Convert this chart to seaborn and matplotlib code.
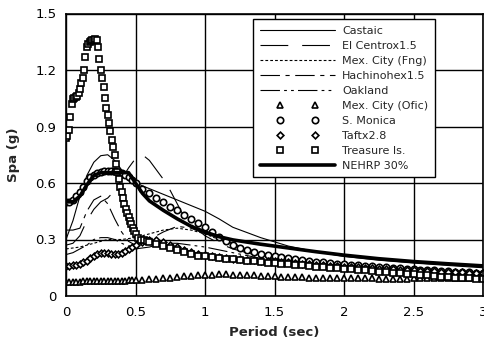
import matplotlib
matplotlib.use("Agg")
import matplotlib.pyplot as plt
import seaborn as sns
import pandas as pd
from matplotlib.legend_handler import HandlerLine2D

sns.set_style("white")
plt.rcParams['font.family'] = ['DejaVu Sans']
plt.rcParams['lines.scale_dashes'] = False

# ---------------- data ----------------
castaic_T = [0, 0.05, 0.1, 0.15, 0.2, 0.25, 0.3, 0.35, 0.4, 0.45, 0.5, 0.6, 0.7, 0.8, 0.9, 1.0,
             1.1, 1.2, 1.4, 1.6, 1.8, 2.0, 2.25, 2.5, 2.75, 3.0]
castaic_S = [0.3, 0.4, 0.53, 0.64, 0.71, 0.745, 0.75, 0.72, 0.67, 0.63, 0.6, 0.57, 0.54, 0.51, 0.48, 0.45,
             0.41, 0.365, 0.31, 0.265, 0.235, 0.21, 0.19, 0.175, 0.162, 0.15]

elcentro_T = [0, 0.05, 0.1, 0.15, 0.2, 0.25, 0.3, 0.35, 0.4, 0.45, 0.5, 0.55, 0.6, 0.65, 0.7, 0.75,
              0.8, 0.85, 0.9, 0.95, 1.0, 1.1, 1.2, 1.4, 1.6, 1.8, 2.0, 2.5, 3.0]
elcentro_S = [0.27, 0.28, 0.32, 0.4, 0.46, 0.5, 0.52, 0.56, 0.62, 0.68, 0.73, 0.75, 0.72, 0.67, 0.62, 0.56,
              0.49, 0.42, 0.38, 0.35, 0.32, 0.28, 0.25, 0.21, 0.18, 0.16, 0.145, 0.12, 0.105]

mexfng_T = [0, 0.1, 0.2, 0.3, 0.4, 0.5, 0.6, 0.7, 0.8, 0.9, 1.0, 1.1, 1.2, 1.4, 1.6, 1.8, 2.0, 2.5, 3.0]
mexfng_S = [0.25, 0.26, 0.28, 0.3, 0.3, 0.31, 0.33, 0.35, 0.36, 0.35, 0.33, 0.3, 0.27, 0.23, 0.2, 0.18,
            0.165, 0.14, 0.12]

hachi_T = [0, 0.05, 0.1, 0.15, 0.2, 0.25, 0.3, 0.35, 0.4, 0.45, 0.5, 0.6, 0.7, 0.8, 0.9, 1.0, 1.1, 1.2,
           1.4, 1.6, 1.8, 2.0, 2.5, 3.0]
hachi_S = [0.35, 0.35, 0.36, 0.45, 0.51, 0.53, 0.49, 0.41, 0.34, 0.29, 0.27, 0.3, 0.34, 0.37, 0.36, 0.33,
           0.31, 0.28, 0.22, 0.2, 0.18, 0.165, 0.14, 0.125]

oakland_T = [0, 0.05, 0.1, 0.15, 0.2, 0.25, 0.3, 0.35, 0.4, 0.5, 0.6, 0.7, 0.8, 0.9, 1.0, 1.2, 1.4, 1.6,
             2.0, 2.5, 3.0]
oakland_S = [0.22, 0.23, 0.25, 0.27, 0.3, 0.31, 0.31, 0.3, 0.28, 0.25, 0.26, 0.28, 0.28, 0.27, 0.26, 0.23,
             0.2, 0.18, 0.15, 0.12, 0.1]

nehrp_T = [0, 0.05, 0.1, 0.15, 0.2, 0.25, 0.45, 0.5, 0.55, 0.6, 0.7, 0.8, 0.9, 1.0, 1.1, 1.2, 1.4, 1.6,
           1.8, 2.0, 2.25, 2.5, 2.75, 3.0]
nehrp_S = [0.5, 0.5, 0.53, 0.59, 0.64, 0.655, 0.655, 0.6, 0.545, 0.505, 0.455, 0.41, 0.37, 0.34, 0.315,
           0.298, 0.275, 0.255, 0.235, 0.217, 0.198, 0.183, 0.171, 0.16]

# shared period grid of the marker records
rec_T = [0.0, 0.025, 0.05, 0.075, 0.1, 0.125, 0.15, 0.175, 0.2, 0.225, 0.25, 0.275, 0.3, 0.325, 0.35,
         0.375, 0.4, 0.425, 0.45, 0.475, 0.5,
         0.55, 0.6, 0.65, 0.7, 0.75, 0.8, 0.85, 0.9, 0.95, 1.0,
         1.05, 1.1, 1.15, 1.2, 1.25, 1.3, 1.35, 1.4, 1.45, 1.5, 1.55, 1.6, 1.65, 1.7, 1.75, 1.8, 1.85,
         1.9, 1.95, 2.0, 2.05, 2.1, 2.15, 2.2, 2.25, 2.3, 2.35, 2.4, 2.45, 2.5, 2.55, 2.6, 2.65, 2.7,
         2.75, 2.8, 2.85, 2.9, 2.95, 3.0]

mexofic_S = [0.075, 0.075, 0.075, 0.076, 0.076, 0.077, 0.077, 0.078, 0.078, 0.078, 0.079, 0.079, 0.08,
             0.08, 0.08, 0.081, 0.081, 0.082, 0.083, 0.084, 0.085,
             0.087, 0.09, 0.092, 0.095, 0.098, 0.1, 0.104, 0.107, 0.11, 0.112,
             0.114, 0.115, 0.115, 0.114, 0.113, 0.112, 0.11, 0.108, 0.106, 0.105, 0.103, 0.101, 0.1,
             0.099, 0.098, 0.097, 0.096, 0.095, 0.095, 0.094, 0.094, 0.093, 0.093, 0.093, 0.092, 0.092,
             0.092, 0.092, 0.092, 0.093, 0.093, 0.094, 0.094, 0.095, 0.096, 0.096, 0.097, 0.098, 0.099,
             0.1]

smonica_S = [0.5, 0.5, 0.51, 0.53, 0.55, 0.58, 0.61, 0.63, 0.645, 0.655, 0.66, 0.665, 0.665, 0.665,
             0.665, 0.66, 0.655, 0.645, 0.63, 0.615, 0.6,
             0.57, 0.545, 0.52, 0.5, 0.475, 0.455, 0.43, 0.41, 0.385, 0.365,
             0.34, 0.315, 0.29, 0.27, 0.255, 0.243, 0.233, 0.225, 0.217, 0.21, 0.205, 0.2, 0.195, 0.19,
             0.185, 0.18, 0.178, 0.175, 0.172, 0.17, 0.167, 0.164, 0.161, 0.158, 0.155, 0.152, 0.15,
             0.147, 0.145, 0.142, 0.14, 0.138, 0.136, 0.134, 0.132, 0.13, 0.128, 0.126, 0.124, 0.122]

taft_S = [0.16, 0.16, 0.162, 0.165, 0.17, 0.178, 0.188, 0.2, 0.212, 0.222, 0.228, 0.23, 0.228, 0.224,
          0.222, 0.224, 0.23, 0.238, 0.248, 0.26, 0.272,
          0.288, 0.298, 0.296, 0.286, 0.272, 0.258, 0.245, 0.234, 0.224, 0.216,
          0.21, 0.205, 0.2, 0.197, 0.195, 0.193, 0.19, 0.188, 0.186, 0.184, 0.181, 0.178, 0.175, 0.172,
          0.169, 0.166, 0.163, 0.16, 0.158, 0.156, 0.154, 0.152, 0.15, 0.148, 0.146, 0.144, 0.142, 0.14,
          0.138, 0.136, 0.134, 0.132, 0.131, 0.129, 0.128, 0.126, 0.125, 0.123, 0.122, 0.12]

treasure_T = [0.0, 0.01, 0.02, 0.03, 0.04, 0.05, 0.06, 0.07, 0.08, 0.09, 0.1, 0.11, 0.12, 0.13, 0.14,
              0.15, 0.16, 0.17, 0.18, 0.19, 0.2, 0.21, 0.22, 0.23, 0.24, 0.25, 0.26, 0.27, 0.28, 0.29,
              0.3, 0.31, 0.32, 0.33, 0.34, 0.35, 0.36, 0.37, 0.38, 0.39, 0.4, 0.41, 0.42, 0.43, 0.44,
              0.45, 0.46, 0.47, 0.48, 0.49, 0.5, 0.52, 0.54, 0.56, 0.58, 0.6, 0.65, 0.7, 0.75, 0.8, 0.85,
              0.9, 0.95, 1.0, 1.05, 1.1, 1.15, 1.2, 1.25, 1.3, 1.35, 1.4, 1.45, 1.5, 1.55, 1.6, 1.65, 1.7,
              1.75, 1.8, 1.85, 1.9, 1.95, 2.0, 2.05, 2.1, 2.15, 2.2, 2.25, 2.3, 2.35, 2.4, 2.45, 2.5, 2.55,
              2.6, 2.65, 2.7, 2.75, 2.8, 2.85, 2.9, 2.95, 3.0]
treasure_S = [0.84, 0.85, 0.88, 0.95, 1.02, 1.045, 1.05, 1.055, 1.06, 1.08, 1.1, 1.13, 1.16, 1.2, 1.27,
              1.32, 1.34, 1.35, 1.355, 1.36, 1.36, 1.365, 1.36, 1.32, 1.26, 1.2, 1.16, 1.11, 1.05, 1.0,
              0.96, 0.92, 0.875, 0.83, 0.79, 0.75, 0.7, 0.66, 0.62, 0.58, 0.55, 0.52, 0.49, 0.46, 0.44,
              0.42, 0.4, 0.38, 0.36, 0.345, 0.33, 0.31, 0.3, 0.295, 0.29, 0.285, 0.275, 0.265, 0.255,
              0.245, 0.235, 0.225, 0.215, 0.21, 0.205, 0.2, 0.197, 0.194, 0.19, 0.187, 0.184, 0.18, 0.177,
              0.174, 0.171, 0.168, 0.165, 0.162, 0.159, 0.156, 0.153, 0.15, 0.148, 0.145, 0.142, 0.139,
              0.136, 0.133, 0.13, 0.127, 0.124, 0.121, 0.118, 0.115, 0.112, 0.109, 0.106, 0.103, 0.1,
              0.098, 0.096, 0.094, 0.092, 0.09]

x_ticks = [0, 0.5, 1, 1.5, 2, 2.5, 3]
x_tick_labels = ["0", "0.5", "1", "1.5", "2", "2.5", "3"]
y_ticks = [0, 0.3, 0.6, 0.9, 1.2, 1.5]
y_tick_labels = ["0", "0.3", "0.6", "0.9", "1.2", "1.5"]

# ---------------- figure ----------------
W, H = 484, 349
fig = plt.figure(figsize=(W / 100, H / 100), dpi=100)
ax = fig.add_axes([66 / W, (H - 296) / H, (483 - 66) / W, (296 - 13.5) / H])

line_specs = [
    ("Castaic", castaic_T, castaic_S, "-"),
    ("El Centrox1.5", elcentro_T, elcentro_S, (0, (20, 10))),
    ("Mex. City (Fng)", mexfng_T, mexfng_S, (0, (2, 1.5))),
    ("Hachinohex1.5", hachi_T, hachi_S, (0, (14, 4, 3, 4))),
    ("Oakland", oakland_T, oakland_S, (0, (14, 3, 2, 3, 2, 3))),
]
handles = []
for name, T, S, ls in line_specs:
    sns.lineplot(x=T, y=S, ax=ax, color="black", lw=0.8, linestyle=ls, label=name, sort=False)
    handles.append(ax.lines[-1])

marker_specs = [
    ("Mex. City (Ofic)", rec_T, mexofic_S, "^", 4.8),
    ("S. Monica", rec_T, smonica_S, "o", 4.6),
    ("Taftx2.8", rec_T, taft_S, "D", 3.4),
    ("Treasure Is.", treasure_T, treasure_S, "s", 4.4),
]
marker_handles = []
for name, T, S, mk, ms in marker_specs:
    sns.lineplot(x=T, y=S, ax=ax, color="black", linestyle="none", marker=mk, markersize=ms,
                 markerfacecolor="white", markeredgecolor="black", markeredgewidth=1.2,
                 label=name, sort=False)
    handles.append(ax.lines[-1])
    marker_handles.append(ax.lines[-1])

sns.lineplot(x=nehrp_T, y=nehrp_S, ax=ax, color="black", lw=2.6, linestyle="-", label="NEHRP 30%",
             sort=False)
handles.append(ax.lines[-1])

ax.set_xlim(0, 3)
ax.set_ylim(0, 1.5)
ax.set_xticks(x_ticks)
ax.set_xticklabels(x_tick_labels)
ax.set_yticks(y_ticks)
ax.set_yticklabels(y_tick_labels)
ax.grid(True, color="black", lw=1.0)
ax.set_axisbelow(True)
for sp in ax.spines.values():
    sp.set_color("black")
    sp.set_linewidth(1.2)
ax.tick_params(axis="both", length=0, labelsize=9.5, pad=7, colors="black")
ax.set_xlabel("Period (sec)", fontsize=9.5, fontweight="bold", labelpad=5)
ax.set_ylabel("Spa (g)", fontsize=9.5, fontweight="bold", labelpad=11)

fs = 8.0
hmap = {h: HandlerLine2D(numpoints=2, marker_pad=1.8) for h in marker_handles}
leg = ax.legend(handles=handles, labels=[h.get_label() for h in handles], loc="upper left",
                bbox_to_anchor=((253 - 66) / (483 - 66), 1 - (19 - 13.5) / (296 - 13.5)),
                fontsize=fs, frameon=True, fancybox=False, edgecolor="black", framealpha=1,
                handlelength=6.8, handletextpad=0.6, labelspacing=0.45, borderpad=0.6,
                borderaxespad=0, handler_map=hmap)
leg.get_frame().set_linewidth(1.0)

fig.savefig("out.png", dpi=100)
